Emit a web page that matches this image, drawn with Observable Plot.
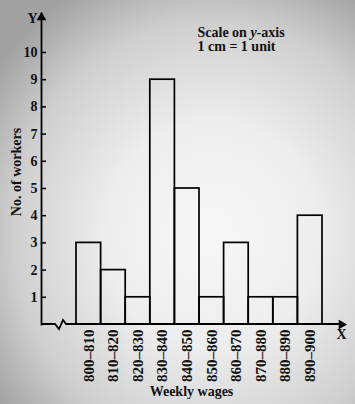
<!DOCTYPE html>
<html>
<head>
<meta charset="utf-8">
<script src="https://cdn.jsdelivr.net/npm/d3@7"></script>
<script src="https://cdn.jsdelivr.net/npm/@observablehq/plot@0.6"></script>
<style>
  html, body { margin: 0; padding: 0; }
  body {
    width: 355px; height: 404px; overflow: hidden;
    background: radial-gradient(ellipse 75% 70% at 60% 58%, #f7f7f7 0%, #ededed 40%, #cfcfcf 75%, #a2a2a2 100%);
    font-family: "Liberation Serif", serif;
  }
</style>
</head>
<body>
<div id="chart"></div>
<script>
const wageStarts = [800, 810, 820, 830, 840, 850, 860, 870, 880, 890];
const wageEnds   = [810, 820, 830, 840, 850, 860, 870, 880, 890, 900];
const workers    = [3, 2, 1, 9, 5, 1, 3, 1, 1, 4];
const wageLabels = ["800–810", "810–820", "820–830", "830–840", "840–850",
                    "850–860", "860–870", "870–880", "880–890", "890–900"];
const yTicks = [1, 2, 3, 4, 5, 6, 7, 8, 9, 10];

const bins = wageStarts.map((s, i) => ({x1: s, x2: wageEnds[i], count: workers[i], label: wageLabels[i]}));

const font = {fontFamily: "Liberation Serif", fontWeight: "bold", fill: "#111"};

const xAxisLine = (index, scales, values, dims) => {
  const y0 = scales.y(0);
  const L = dims.marginLeft, R = dims.width - dims.marginRight;
  return d3.create("svg:path")
    .attr("d", `M${L},${y0}H${L + 14}l4,5l4,-9l3,4H${R - 4}`)
    .attr("fill", "none").attr("stroke", "black").attr("stroke-width", 1.8)
    .node();
};

const chart = Plot.plot({
  width: 355,
  height: 404,
  marginLeft: 41,
  marginRight: 10,
  marginTop: 13,
  marginBottom: 80,
  style: {background: "none", overflow: "visible"},
  x: {domain: [800, 900], range: [76, 322], axis: null},
  y: {domain: [0, 10], range: [324, 52]},
  marks: [
    Plot.rectY(bins, {x1: "x1", x2: "x2", y: "count", fill: "none", stroke: "black", strokeWidth: 1.7}),
    Plot.frame({anchor: "left", stroke: "black", strokeWidth: 1.8}),
    xAxisLine,
    Plot.axisY({ticks: yTicks, tickSize: -5, tickPadding: 9, label: null, fontSize: 14, ...font, stroke: "black", strokeWidth: 1.5}),
    Plot.text(["Y"], {frameAnchor: "top-left", textAnchor: "middle", lineAnchor: "middle", dx: -9, dy: 5, fontSize: 14, ...font}),
    Plot.text(["X"], {frameAnchor: "bottom-right", textAnchor: "middle", lineAnchor: "middle", dx: -4, dy: 10, fontSize: 14, ...font}),
    Plot.dot([0], {frameAnchor: "top-left", symbol: "triangle", r: 3.6, fill: "black", stroke: "none", dy: 4}),
    Plot.dot([0], {frameAnchor: "bottom-right", symbol: "triangle", r: 3.6, fill: "black", stroke: "none", rotate: 90, dx: -4}),
    Plot.text(bins, {x: d => (d.x1 + d.x2) / 2, text: "label", frameAnchor: "bottom", rotate: -90, textAnchor: "end", lineAnchor: "middle", dy: 5, fontSize: 15, ...font}),
    Plot.text(["Weekly wages"], {frameAnchor: "bottom", textAnchor: "middle", dx: -2, dy: 71, lineAnchor: "bottom", fontSize: 14, ...font}),
    Plot.text(["No. of workers"], {frameAnchor: "left", textAnchor: "middle", lineAnchor: "middle", rotate: -90, dx: -25, dy: 3, fontSize: 14, ...font}),
    Plot.text(["Scale on y-axis"], {frameAnchor: "top-left", textAnchor: "start", lineAnchor: "bottom", dx: 156, dy: 23, fontSize: 14, ...font}),
    Plot.text(["1 cm = 1 unit"], {frameAnchor: "top-left", textAnchor: "start", lineAnchor: "bottom", dx: 156, dy: 37, fontSize: 14, ...font})
  ]
});

chart.querySelectorAll("text").forEach(t => {
  if (t.textContent === "Scale on y-axis") {
    t.innerHTML = 'Scale on <tspan font-style="italic">y</tspan>-axis';
  }
});

document.getElementById("chart").appendChild(chart);
</script>
</body>
</html>
